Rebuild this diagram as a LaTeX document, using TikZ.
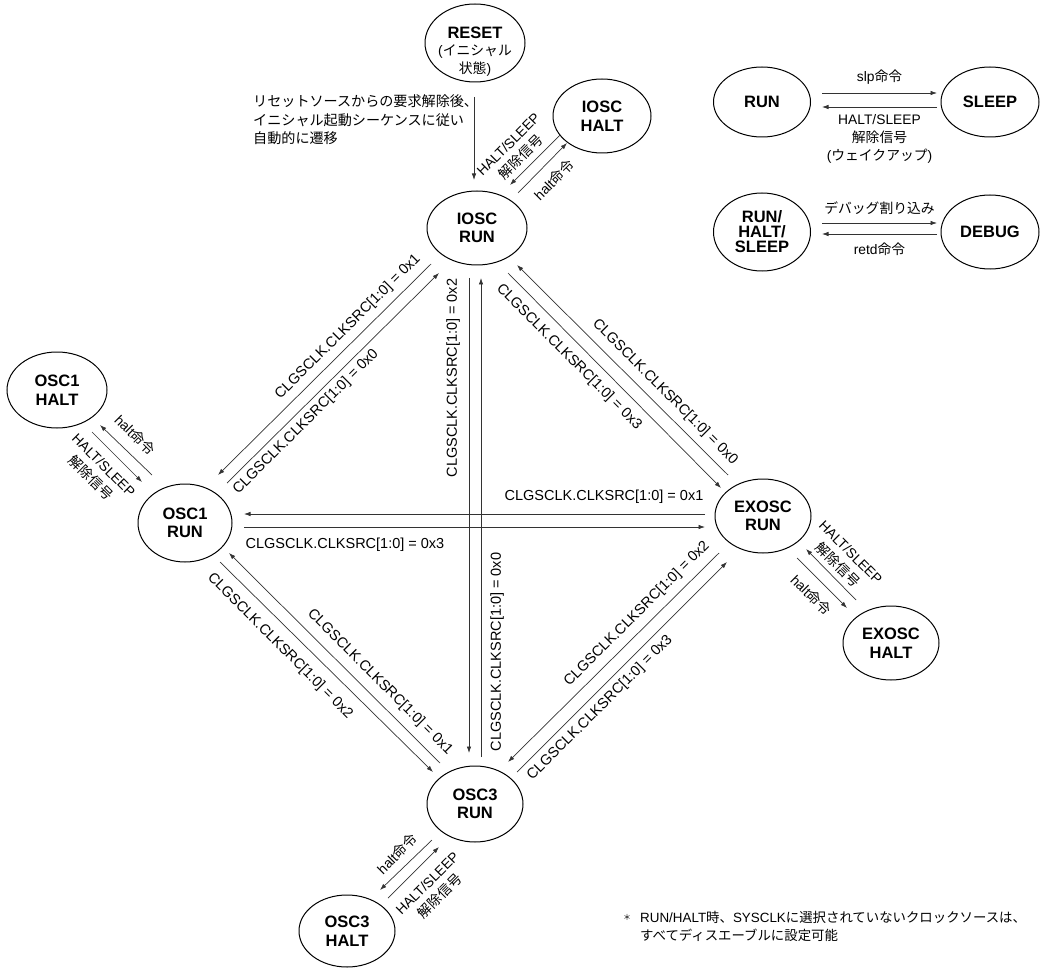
\documentclass[tikz,border=0pt]{standalone}
\usepackage{fontspec}
\setmainfont{Liberation Sans}
\newfontfamily\jpfont{Noto Sans CJK JP}
\newcommand\J[1]{{\jpfont #1}}
\usetikzlibrary{shapes.geometric,arrows.meta}
\tikzset{
  st/.style={draw, ellipse, line width=1pt, inner sep=0pt, minimum width=98pt, minimum height=74pt},
  nm/.style={font=\fontsize{16.5}{18.5}\selectfont\bfseries, align=center, inner sep=0pt},
  ar/.style={draw=black!80, line width=0.7pt, -{Latex[length=6.5pt,width=4.5pt]}},
  cl/.style={font=\fontsize{14.5}{17}\selectfont, inner sep=0pt},
  jl/.style={font=\fontsize{13.8}{18}\selectfont, align=center, inner sep=0pt},
}
\begin{document}
\begin{tikzpicture}[x=1pt,y=-1pt]
\useasboundingbox (0,0) rectangle (1041,968);

% ---------- states ----------
\node[st, minimum width=100pt, minimum height=78pt] (reset) at (475,43) {};
\node[nm] (resett) at ([shift={(0,-10)}]reset.center) {RESET};
\node[jl] (resetj) at ([shift={(0,18)}]reset.center) {(\J{イニシャル}\\\J{状態})};

\node[st, minimum width=100pt, label={[nm]center:IOSC\\RUN}] (ioscrun) at (477,228) {};
\node[st, label={[nm]center:IOSC\\HALT}] (ioschalt) at (602,116) {};
\node[st, minimum width=100pt, minimum height=76pt, label={[nm]center:OSC1\\HALT}] (osc1halt) at (57,390) {};
\node[st, minimum width=94pt, minimum height=78pt, label={[nm]center:OSC1\\RUN}] (osc1run) at (185,523) {};
\node[st, minimum width=96pt, label={[nm]center:EXOSC\\RUN}] (exoscrun) at (763,516) {};
\node[st, minimum width=96pt, label={[nm]center:EXOSC\\HALT}] (exoschalt) at (891,643) {};
\node[st, minimum width=96pt, minimum height=76pt, label={[nm]center:OSC3\\RUN}] (osc3run) at (475,804) {};
\node[st, minimum width=96pt, minimum height=72pt, label={[nm]center:OSC3\\HALT}] (osc3halt) at (347,931) {};

% legend states
\node[st, minimum width=97pt, minimum height=70pt, label={[nm]center:RUN}] (run) at (762,102) {};
\node[st, minimum width=98pt, minimum height=70pt, label={[nm]center:SLEEP}] (sleep) at (990,102) {};
\node[st, minimum width=97pt, minimum height=78pt, label={[nm, font=\fontsize{16.5}{15}\selectfont\bfseries]center:RUN/\\HALT/\\SLEEP}] (rhs) at (762,232) {};
\node[st, minimum width=98pt, minimum height=74pt, label={[nm]center:DEBUG}] (debug) at (990,232) {};

% ---------- legend connectors ----------
\draw[ar] ([shift={(60,-9)}]run.center) -- node[jl, above=8pt] (slp) {slp\J{命令}} ([shift={(-53,-9)}]sleep.center);
\draw[ar] ([shift={(-53,5)}]sleep.center) -- node[jl, below=7pt] (wake) {HALT/SLEEP\\\J{解除信号}\\(\J{ウェイクアップ})} ([shift={(60,5)}]run.center);
\draw[ar] ([shift={(60,-9)}]rhs.center) -- node[jl, above=8pt] (dbgi) {\J{デバッグ割り込み}} ([shift={(-53,-9)}]debug.center);
\draw[ar] ([shift={(-53,2)}]debug.center) -- node[jl, below=9pt] (retd) {retd\J{命令}} ([shift={(60,2)}]rhs.center);

% ---------- reset ----------
\draw[ar] ([shift={(-1,54)}]reset.center) -- ([shift={(-3,-48)}]ioscrun.center);
\node[jl, font=\fontsize{14.1}{18.5}\selectfont, align=left, anchor=west] (resetnote) at (253,120) {\J{リセットソースからの要求解除後、}\\\J{イニシャル起動シーケンスに従い}\\\J{自動的に遷移}};

% ---------- halt loops ----------
\draw[ar] ([shift={(-42,19)}]ioschalt.center) -- ([shift={(33,-43)}]ioscrun.center);
\draw[ar] ([shift={(41,-35)}]ioscrun.center) -- ([shift={(-35,27)}]ioschalt.center);
\node[jl, rotate=45] at (515,151) {HALT/SLEEP\\\J{解除信号}};
\node[jl, rotate=45] at (554,180) {halt\J{命令}};

\draw[ar] ([shift={(-33,-48)}]osc1run.center) -- ([shift={(43,35)}]osc1halt.center);
\draw[ar] ([shift={(35,42)}]osc1halt.center) -- ([shift={(-43,-41)}]osc1run.center);
\node[jl, rotate=-45] at (135,435) {halt\J{命令}};
\node[jl, rotate=-45] at (97,472) {HALT/SLEEP\\\J{解除信号}};

\draw[ar] ([shift={(-35,-43)}]exoschalt.center) -- ([shift={(43,33)}]exoscrun.center);
\draw[ar] ([shift={(34,42)}]exoscrun.center) -- ([shift={(-44,-35)}]exoschalt.center);
\node[jl, rotate=-45] at (844,559) {HALT/SLEEP\\\J{解除信号}};
\node[jl, rotate=-45] at (811,595) {halt\J{命令}};

\draw[ar] ([shift={(-43,36)}]osc3run.center) -- ([shift={(33,-41)}]osc3halt.center);
\draw[ar] ([shift={(41,-33)}]osc3halt.center) -- ([shift={(-36,43)}]osc3run.center);
\node[jl, rotate=45] at (397,854) {halt\J{命令}};
\node[jl, rotate=45] at (434,890) {HALT/SLEEP\\\J{解除信号}};

% ---------- clock source switches ----------
% IOSC <-> OSC1
\draw[ar] ([shift={(-46,36)}]ioscrun.center) -- ([shift={(33,-48)}]osc1run.center);
\draw[ar] ([shift={(42,-40)}]osc1run.center) -- ([shift={(-38,45)}]ioscrun.center);
\node[cl, rotate=45] at (348,327) {CLGSCLK.CLKSRC[1:0] = 0x1};
\node[cl, rotate=45] at (306,422) {CLGSCLK.CLKSRC[1:0] = 0x0};

% IOSC <-> EXOSC
\draw[ar] ([shift={(-35,-41)}]exoscrun.center) -- ([shift={(40,37)}]ioscrun.center);
\draw[ar] ([shift={(31,45)}]ioscrun.center) -- ([shift={(-42,-28)}]exoscrun.center);
\node[cl, rotate=-45] at (665,392) {CLGSCLK.CLKSRC[1:0] = 0x0};
\node[cl, rotate=-45] at (569,357) {CLGSCLK.CLKSRC[1:0] = 0x3};

% OSC1 <-> EXOSC
\draw[ar] ([shift={(-58,-2)}]exoscrun.center) -- ([shift={(59,-9)}]osc1run.center);
\draw[ar] ([shift={(59,4)}]osc1run.center) -- ([shift={(-58,11)}]exoscrun.center);
\node[cl] at (604,497) {CLGSCLK.CLKSRC[1:0] = 0x1};
\node[cl] at (345,545) {CLGSCLK.CLKSRC[1:0] = 0x3};

% IOSC <-> OSC3
\draw[ar] ([shift={(-8,50)}]ioscrun.center) -- ([shift={(-6,-51)}]osc3run.center);
\draw[ar] ([shift={(6,-47)}]osc3run.center) -- ([shift={(4,50)}]ioscrun.center);
\node[cl, rotate=90] at (453,378) {CLGSCLK.CLKSRC[1:0] = 0x2};
\node[cl, rotate=90] at (497,652) {CLGSCLK.CLKSRC[1:0] = 0x0};

% OSC1 <-> OSC3
\draw[ar] ([shift={(-35,-41)}]osc3run.center) -- ([shift={(44,30)}]osc1run.center);
\draw[ar] ([shift={(35,39)}]osc1run.center) -- ([shift={(-42,-32)}]osc3run.center);
\node[cl, rotate=-45] at (380,682) {CLGSCLK.CLKSRC[1:0] = 0x1};
\node[cl, rotate=-45] at (280,646) {CLGSCLK.CLKSRC[1:0] = 0x2};

% EXOSC <-> OSC3
\draw[ar] ([shift={(-44,37)}]exoscrun.center) -- ([shift={(33,-42)}]osc3run.center);
\draw[ar] ([shift={(42,-32)}]osc3run.center) -- ([shift={(-36,46)}]exoscrun.center);
\node[cl, rotate=45] at (637,614) {CLGSCLK.CLKSRC[1:0] = 0x2};
\node[cl, rotate=45] at (600,708) {CLGSCLK.CLKSRC[1:0] = 0x3};

% ---------- footnote ----------
\node[inner sep=0pt] (star) at (627,917) {\J{\fontsize{8}{8}\selectfont ＊}};
\node[jl, font=\fontsize{13.4}{18}\selectfont, align=left, anchor=west] (note) at (640,926) {RUN/HALT\J{時、}SYSCLK\J{に選択されていないクロックソースは、}\\\J{すべてディスエーブルに設定可能}};
\end{tikzpicture}
\end{document}
